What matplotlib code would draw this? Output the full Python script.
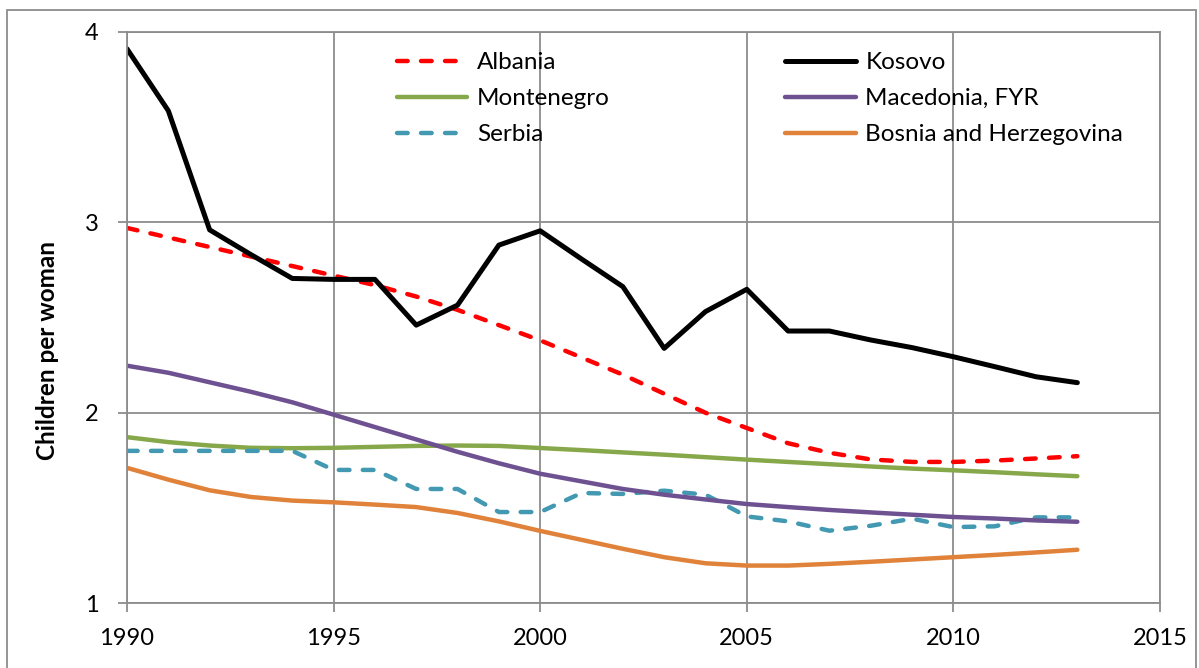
import matplotlib
matplotlib.use("Agg")
import matplotlib.pyplot as plt
from matplotlib.patches import Rectangle

plt.rcParams['font.family'] = ['Lato', 'DejaVu Sans']

years = list(range(1990, 2014))

albania = [2.97, 2.92, 2.87, 2.82, 2.77, 2.72, 2.67, 2.61, 2.54, 2.46, 2.38,
           2.29, 2.20, 2.10, 2.00, 1.92, 1.84, 1.79, 1.755, 1.742, 1.742, 1.749, 1.76, 1.772]
kosovo = [3.91, 3.585, 2.96, 2.83, 2.705, 2.70, 2.70, 2.46, 2.565, 2.88, 2.955,
          2.807, 2.662, 2.338, 2.531, 2.648, 2.429, 2.429, 2.382, 2.342, 2.294, 2.242, 2.189, 2.158]
montenegro = [1.872, 1.846, 1.828, 1.816, 1.814, 1.816, 1.821, 1.826, 1.828, 1.826, 1.815,
              1.804, 1.792, 1.78, 1.767, 1.754, 1.742, 1.73, 1.718, 1.707, 1.698, 1.688, 1.677, 1.667]
macedonia = [2.247, 2.21, 2.16, 2.11, 2.055, 1.99, 1.925, 1.86, 1.795, 1.735, 1.68,
             1.64, 1.60, 1.57, 1.545, 1.521, 1.505, 1.49, 1.477, 1.465, 1.453, 1.445, 1.435, 1.428]
serbia = [1.80, 1.80, 1.80, 1.80, 1.80, 1.70, 1.70, 1.60, 1.60, 1.479, 1.479,
          1.579, 1.574, 1.591, 1.57, 1.456, 1.43, 1.381, 1.407, 1.444, 1.40, 1.404, 1.451, 1.451]
bosnia = [1.711, 1.649, 1.593, 1.558, 1.539, 1.530, 1.518, 1.505, 1.474, 1.43, 1.38,
          1.333, 1.286, 1.242, 1.21, 1.198, 1.198, 1.207, 1.218, 1.23, 1.242, 1.254, 1.267, 1.281]

x_ticks = [1990, 1995, 2000, 2005, 2010, 2015]
y_ticks = [1, 2, 3, 4]
y_label = "Children per woman"

fig = plt.figure(figsize=(11.99, 6.68), dpi=100)
ax = fig.add_axes([127/1199, 1-603.3/668, (1160-127)/1199, (603.3-31.7)/668])

grid_c = '#8c8c8c'
dash = (2.4, 3.0)
lw = 3.2

h_alb, = ax.plot(years, albania, color='#ff0000', lw=lw, dashes=dash,
                 dash_capstyle='round', solid_capstyle='round', label='Albania')
h_mon, = ax.plot(years, montenegro, color='#87a84a', lw=lw,
                 solid_capstyle='round', label='Montenegro')
h_ser, = ax.plot(years, serbia, color='#4299b1', lw=lw, dashes=dash,
                 dash_capstyle='round', label='Serbia')
h_mac, = ax.plot(years, macedonia, color='#6d5190', lw=lw,
                 solid_capstyle='round', label='Macedonia, FYR')
h_bos, = ax.plot(years, bosnia, color='#e0823a', lw=lw,
                 solid_capstyle='round', label='Bosnia and Herzegovina')
h_kos, = ax.plot(years, kosovo, color='black', lw=3.6,
                 solid_capstyle='round', label='Kosovo')

ax.set_xlim(1990, 2015)
ax.set_ylim(1, 4)
ax.set_xticks(x_ticks)
ax.set_yticks(y_ticks)
ax.grid(True, color=grid_c, lw=1.3)
ax.set_axisbelow(True)
for s in ax.spines.values():
    s.set_color(grid_c)
    s.set_linewidth(1.3)
ax.tick_params(axis='both', colors=grid_c, labelcolor='black', labelsize=17,
               length=6.5, width=1.3, direction='out')
ax.tick_params(axis='y', pad=14)
ax.tick_params(axis='x', pad=11)

handles = [h_alb, h_mon, h_ser, h_kos, h_mac, h_bos]
leg = ax.legend(handles=handles, ncol=2, frameon=False, fontsize=17.5,
                loc='upper left', bbox_to_anchor=(397/1199, 1-52/668),
                bbox_transform=fig.transFigure, borderaxespad=0, borderpad=0,
                handlelength=2.9, handletextpad=0.4, columnspacing=7.2,
                labelspacing=0.62)

fig.text(48/1199, 1-351/668, y_label, rotation=90, ha='center', va='center',
         fontsize=17.5, fontweight='bold')

fig.patches.append(Rectangle((7/1199, -0.01), (1196-7)/1199, 1-10/668+0.01,
                             transform=fig.transFigure, fill=False,
                             edgecolor='#8c8c8c', lw=1.3))

fig.savefig('out.png', dpi=100)
